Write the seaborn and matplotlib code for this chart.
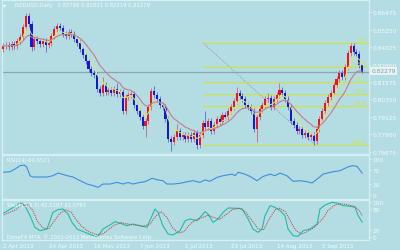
import numpy as np
import pandas as pd
import matplotlib
matplotlib.use("Agg")
import matplotlib.pyplot as plt
import seaborn as sns

# ---------------- data ----------------
date_labels = ["2 Apr 2013", "24 Apr 2013", "16 May 2013", "7 Jun 2013",
               "1 Jul 2013", "23 Jul 2013", "14 Aug 2013", "5 Sep 2013"]
date_idx = [0, 16, 32, 48, 64, 80, 96, 112]

first_open = 0.8390
closes = [0.8411, 0.8418, 0.8404, 0.8425, 0.8411, 0.8446, 0.8474, 0.8544, 0.8621, 0.8565,
          0.8404, 0.8460, 0.8446, 0.8425, 0.8446, 0.8418, 0.8432, 0.8481, 0.8530, 0.8551,
          0.8537, 0.8495, 0.8481, 0.8509, 0.8495, 0.8460, 0.8432, 0.8390, 0.8347, 0.8305,
          0.8249, 0.8221, 0.8207, 0.8108, 0.8080, 0.8136, 0.8087, 0.8101, 0.8080, 0.8108,
          0.8073, 0.8087, 0.7954, 0.8052, 0.8066, 0.8073, 0.7996, 0.7954, 0.7911, 0.7848,
          0.7883, 0.7982, 0.8094, 0.8066, 0.8038, 0.7996, 0.7982, 0.7897, 0.7757, 0.7736,
          0.7771, 0.7813, 0.7771, 0.7785, 0.7757, 0.7785, 0.7757, 0.7799, 0.7715, 0.7785,
          0.7869, 0.7841, 0.7883, 0.7813, 0.7855, 0.7897, 0.7876, 0.7926, 0.7911, 0.7954,
          0.7982, 0.8024, 0.8080, 0.8059, 0.8038, 0.7996, 0.7982, 0.7954, 0.7827, 0.7911,
          0.7968, 0.7996, 0.8038, 0.8045, 0.7982, 0.8038, 0.8066, 0.8101, 0.8080, 0.8038,
          0.7982, 0.7883, 0.7855, 0.7813, 0.7827, 0.7785, 0.7799, 0.7771, 0.7785, 0.7743,
          0.7827, 0.7897, 0.7954, 0.8010, 0.8052, 0.8080, 0.8136, 0.8179, 0.8221, 0.8193,
          0.8263, 0.8361, 0.8411, 0.8368, 0.8354, 0.8277, 0.82279]
highs = [0.8431, 0.8438, 0.8438, 0.8445, 0.8445, 0.8466, 0.8494, 0.8564, 0.8643, 0.8641,
         0.8585, 0.8480, 0.8480, 0.8466, 0.8466, 0.8466, 0.8452, 0.8501, 0.8550, 0.8572,
         0.8571, 0.8557, 0.8515, 0.8529, 0.8529, 0.8515, 0.8480, 0.8452, 0.8410, 0.8367,
         0.8325, 0.8269, 0.8241, 0.8227, 0.8128, 0.8193, 0.8156, 0.8121, 0.8121, 0.8128,
         0.8150, 0.8107, 0.8107, 0.8072, 0.8086, 0.8093, 0.8093, 0.8016, 0.7974, 0.7931,
         0.7903, 0.8002, 0.8114, 0.8129, 0.8086, 0.8058, 0.8016, 0.8002, 0.7917, 0.7777,
         0.7791, 0.7862, 0.7833, 0.7805, 0.7805, 0.7805, 0.7805, 0.7819, 0.7819, 0.7805,
         0.7889, 0.7954, 0.7903, 0.7903, 0.7875, 0.7917, 0.7917, 0.7946, 0.7946, 0.7974,
         0.8002, 0.8044, 0.8122, 0.8100, 0.8079, 0.8058, 0.8016, 0.8002, 0.7974, 0.7931,
         0.7988, 0.8016, 0.8058, 0.8079, 0.8065, 0.8058, 0.8086, 0.8150, 0.8121, 0.8100,
         0.8058, 0.8002, 0.7903, 0.7875, 0.7847, 0.7847, 0.7819, 0.7819, 0.7805, 0.7805,
         0.7847, 0.7917, 0.7974, 0.8030, 0.8072, 0.8100, 0.8156, 0.8199, 0.8241, 0.8241,
         0.8283, 0.8381, 0.8432, 0.8431, 0.8388, 0.8374, 0.82801]
lows = [0.8370, 0.8391, 0.8384, 0.8384, 0.8391, 0.8391, 0.8426, 0.8454, 0.8524, 0.8545,
        0.8376, 0.8384, 0.8426, 0.8405, 0.8405, 0.8369, 0.8398, 0.8412, 0.8461, 0.8510,
        0.8517, 0.8475, 0.8461, 0.8461, 0.8475, 0.8440, 0.8412, 0.8370, 0.8327, 0.8285,
        0.8229, 0.8201, 0.8187, 0.8088, 0.8060, 0.8060, 0.8067, 0.8067, 0.8060, 0.8060,
        0.8053, 0.8053, 0.7934, 0.7934, 0.8032, 0.8046, 0.7976, 0.7934, 0.7891, 0.7828,
        0.7771, 0.7863, 0.7962, 0.8046, 0.8018, 0.7976, 0.7962, 0.7877, 0.7737, 0.7672,
        0.7716, 0.7751, 0.7751, 0.7751, 0.7737, 0.7737, 0.7737, 0.7737, 0.7686, 0.7695,
        0.7765, 0.7821, 0.7821, 0.7793, 0.7793, 0.7835, 0.7856, 0.7856, 0.7891, 0.7891,
        0.7934, 0.7962, 0.8004, 0.8039, 0.8018, 0.7976, 0.7962, 0.7934, 0.7807, 0.7736,
        0.7891, 0.7948, 0.7976, 0.8018, 0.7962, 0.7962, 0.8018, 0.8046, 0.8060, 0.8018,
        0.7962, 0.7863, 0.7835, 0.7793, 0.7793, 0.7765, 0.7765, 0.7751, 0.7751, 0.7715,
        0.7723, 0.7807, 0.7877, 0.7934, 0.7990, 0.8032, 0.8060, 0.8116, 0.8159, 0.8173,
        0.8173, 0.8243, 0.8341, 0.8348, 0.8334, 0.8257, 0.82219]

price_ticks = [0.86475, 0.85250, 0.84025, 0.82800, 0.81575, 0.80350, 0.79125, 0.77900, 0.76675]
last_price = 0.82279

fib_high = 0.8432
fib_low = 0.7715
fib_start = 70.2
fib_end = 109.5
fib_levels = [0.0, 23.6, 38.2, 50.0, 61.8, 100.0]

rsi_idx = [0, 2.5, 4.2, 6, 7.4, 8.3, 9.5, 10.5, 13, 15.4, 17.5, 19.3, 20.7, 22.5, 24.6, 27,
           29.5, 31.6, 33.3, 35.1, 37.5, 40, 42.1, 43.9, 45.6, 48, 49.8, 52.3, 54, 56.1, 57.5,
           59.6, 62.1, 64.6, 66.7, 69.1, 70.9, 72.6, 75.1, 77.2, 80.4, 81.4, 82.5, 84.9, 86.7,
           89.1, 91.2, 93.7, 95.4, 97.2, 99.6, 101.8, 104.2, 106.7, 108.4, 110.2, 112.3, 115.8,
           118.2, 120.7, 122.5, 124.2, 126]
rsi_val = [63, 64.7, 72, 81.5, 83, 78, 53.6, 50, 50, 50, 53.6, 61, 58, 53.6, 50, 40,
           30.5, 26, 21.3, 30.5, 30.5, 35, 30.5, 35, 30.5, 35, 36.9, 46.4, 42.5, 39.7, 30.5,
           30.5, 32.5, 36.9, 39.7, 35, 41.9, 38.1, 49, 53.6, 58, 53.6, 63, 58, 51.4,
           39.7, 51.4, 58, 53.6, 61, 53.6, 38, 39.7, 36.9, 33.3, 44.4, 58, 64.7,
           67.5, 76.9, 81.5, 79.7, 60.66]

stoch_idx = [-1, 0.7, 3.5, 5.3, 6.6, 7.7, 9.5, 11.2, 13, 15.4, 16.5, 17.5, 19.3, 21, 22.8, 24.2,
             26, 28.8, 31.6, 33.3, 35.1, 37.5, 39.3, 41, 43.5, 45.6, 48, 50.5, 52.3, 53.3, 54.4,
             56.1, 57.9, 59.6, 62.1, 63.9, 65.6, 68.1, 69.1, 70.9, 71.9, 73.7, 75.4, 77.2, 79,
             82.1, 83.9, 86, 87.7, 89.5, 90.9, 91.9, 93.7, 95.4, 97.2, 98.9, 100, 101.8, 103.5,
             105.3, 107.7, 110.2, 111.2, 113, 115.4, 117.2, 119.3, 121.8, 123.5, 124.6, 126]
stoch_main = [65, 70, 84, 94, 97, 89, 60, 26.6, 16.8, 21.7, 45.8, 70, 77.7, 79.7, 65, 41,
              21.7, 12, 2.3, 0.6, 21.7, 33.3, 43, 39, 31.3, 36.2, 31.3, 26.6, 60.6, 79.7, 70,
              31.3, 7.2, 4.3, 16.8, 45.8, 50.7, 45.8, 55, 72, 65, 41, 50.7, 70, 82.6,
              81.7, 79.7, 50.7, 21.7, 12, 21.7, 60.3, 89.3, 84.6, 75, 60.3, 21.7, 2.3, 0.6,
              16.8, 21.7, 36.2, 79.7, 91.3, 99, 97, 89.3, 87.5, 84.6, 60.3, 41.52]
sig_idx = [-1, 1, 4.5, 6.5, 8.5, 10.5, 12, 14, 16, 18, 19.8, 22, 24, 25.5, 27.5, 30, 33, 35, 37,
           39, 41.5, 44, 46.5, 49, 51.5, 53.5, 55.5, 57.5, 59.5, 61.5, 63.5, 65.5, 67.5, 70, 72,
           74, 76, 78, 80.5, 83, 85, 87.5, 89.5, 91.5, 93.5, 95.5, 97, 99, 100.5, 102.5, 104.5,
           106.5, 109, 112, 114, 116.5, 118.5, 121, 123.5, 125, 126]
sig_val = [60, 65, 78, 90, 93, 75, 45, 25, 22, 45, 66, 77, 70, 50, 30, 14, 5, 8, 20,
           33, 40, 36, 33, 30, 35, 58, 72, 55, 25, 10, 14, 35, 48, 55, 62,
           55, 50, 62, 78, 82, 72, 45, 22, 20, 52, 78, 82, 72, 50, 20, 7,
           13, 25, 50, 75, 92, 95, 92, 86, 75, 61.08]

# ---------------- style ----------------
BG = "#b3dde3"
EDGE = "#d6eff3"
TXT = "#f4fbfc"
FIB = "#d2e23c"
RED = "#f01414"
BLUE = "#1414e6"

sns.set_style("white")
plt.rcParams["font.family"] = ["DejaVu Sans"]

W, H = 400, 251
fig = plt.figure(figsize=(W / 100, H / 100), dpi=100, facecolor=BG)


def axes_px(x0, y0, x1, y1):
    return fig.add_axes([x0 / W, 1 - y1 / H, (x1 - x0) / W, (y1 - y0) / H])


ax1 = axes_px(2, 1, 369, 155)
ax2 = axes_px(2, 156, 369, 199.5)
ax3 = axes_px(2, 200.5, 369, 241)
XL = (-0.35, 128.4)

for ax in (ax1, ax2, ax3):
    ax.set_facecolor(BG)
    ax.set_xlim(*XL)
    for s in ax.spines.values():
        s.set_color(EDGE)
        s.set_linewidth(0.9)
    ax.yaxis.tick_right()
    ax.tick_params(axis="y", colors=TXT, labelsize=4.2, length=1.2, width=0.5, pad=1.2)
    ax.grid(False)

# ---------------- main panel ----------------
n = len(closes)
idx = np.arange(n)
c = np.array(closes)
o = np.array([first_open] + closes[:-1])
hi = np.array(highs)
lo = np.array(lows)
up = c >= o

ax1.set_ylim(0.76513, 0.8734)

# fibonacci
ax1.plot([fib_start, fib_end], [fib_high, fib_low], ls=(0, (2, 1.6)), color="#a08c8e", lw=0.5, zorder=1)
for lev in fib_levels:
    p = fib_high - (fib_high - fib_low) * lev / 100.0
    ax1.plot([fib_start, XL[1]], [p, p], color=FIB, lw=0.8, zorder=1.5, solid_capstyle="butt")
    ax1.text(127.2, p + 0.0004, f"{lev:.1f}", color=FIB, fontsize=3.6, ha="right", va="bottom", zorder=5)

ax1.axhline(last_price, color="#8aa6ae", lw=0.9, zorder=2)

ax1.vlines(idx, lo, hi, colors=np.where(up, "#d8606e", "#5a68d0"), lw=0.6, zorder=3)
body_h = np.maximum(np.abs(c - o), 0.0003)
ax1.bar(idx, body_h, bottom=np.minimum(o, c), width=0.72,
        color=np.where(up, RED, BLUE), linewidth=0, zorder=4)

ser = pd.Series(c)
fast = ser.ewm(span=5, adjust=False).mean()
slow = ser.ewm(span=12, adjust=False).mean()
sns.lineplot(x=idx, y=fast.values, ax=ax1, color="#d8ea66", lw=0.7, zorder=5)
sns.lineplot(x=idx, y=slow.values, ax=ax1, color="#c87a8e", lw=0.8, zorder=5)

ax1.set_yticks(price_ticks)
ax1.set_yticklabels([f"{t:.5f}" for t in price_ticks])
ax1.set_xticks([])
ax1.set_ylabel("")

# ---------------- RSI ----------------
sns.lineplot(x=rsi_idx, y=rsi_val, ax=ax2, color="#3d8fdc", lw=0.8)
ax2.set_ylim(-9.7, 111.1)
ax2.set_yticks([100, 70, 30, 0])
ax2.set_yticklabels(["100", "70", "30", "0"])
ax2.set_xticks([])
ax2.set_ylabel("")
ax2.set_xlim(*XL)

# ---------------- Stochastic ----------------
sns.lineplot(x=stoch_idx, y=stoch_main, ax=ax3, color="#22bca4", lw=0.8)
sns.lineplot(x=sig_idx, y=sig_val, ax=ax3, color="#c04848", lw=0.7)
ax3.lines[-1].set_linestyle((0, (1.2, 1.0)))
ax3.set_ylim(-10.1, 107.2)
ax3.set_yticks([100, 80, 20, 0])
ax3.set_yticklabels(["100", "80", "20", "0"])
ax3.set_xlim(*XL)
ax3.set_ylabel("")
ax3.set_xticks(date_idx)
ax3.set_xticklabels(date_labels)
ax3.tick_params(axis="x", colors=TXT, labelsize=4.0, length=1.5, width=0.5, pad=0.8)
for lbl in ax3.get_xticklabels():
    lbl.set_ha("left")

# ---------------- texts ----------------
fig.text(2.5 / W, 1 - 6 / H, "\u25be", fontsize=4.5, color=TXT, va="center", ha="left")
fig.text(15 / W, 1 - 6 / H, "NZDUSD,Daily   0.82799 0.82801 0.82219 0.82279",
         fontsize=3.8, color=TXT, va="center", ha="left")
fig.text(7 / W, 1 - 161 / H, "RSI(14) 60.6571", fontsize=3.8, color=TXT, va="center", ha="left")
fig.text(7 / W, 1 - 205 / H, "Stoch(5,3,3) 41.5197 61.0761", fontsize=3.8, color=TXT,
         va="center", ha="left")
fig.text(7 / W, 1 - 237 / H, "DoneFX MT4, \u00a9 2001-2013 MetaQuotes Software Corp.",
         fontsize=3.8, color=TXT, va="center", ha="left")
fig.text(371.5 / W, 1 - 72 / H, "0.82279", fontsize=4.2, color="#7f9aa1", va="center", ha="left",
         bbox=dict(boxstyle="square,pad=0.2", fc="#e6f2f4", ec="none"))

fig.savefig("out.png", dpi=100, facecolor=BG)
